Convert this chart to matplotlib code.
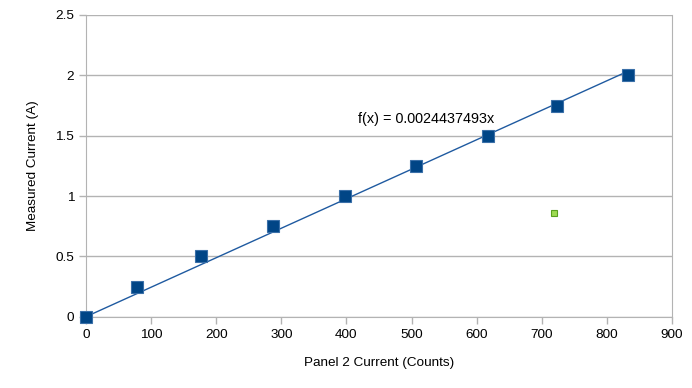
import matplotlib
matplotlib.use("Agg")
import matplotlib.pyplot as plt
import numpy as np

plt.rcParams['font.family'] = ['Liberation Sans', 'DejaVu Sans']

counts = [0, 78, 177, 287, 398, 507, 617, 723, 833]
measured = [0, 0.25, 0.5, 0.75, 1.0, 1.25, 1.5, 1.75, 2.0]
slope = 0.0024437493
extra_x = [719]
extra_y = [0.857]
x_ticks = [0, 100, 200, 300, 400, 500, 600, 700, 800, 900]
y_ticks = [0, 0.5, 1, 1.5, 2, 2.5]
y_tick_labels = ["0", "0.5", "1", "1.5", "2", "2.5"]

fig = plt.figure(figsize=(6.92, 3.88), dpi=100)
ax = fig.add_axes([86/692, 1-316.7/388, (672-86)/692, (316.7-15)/388])

ax.set_xlim(0, 900)
ax.set_ylim(0, 2.5)
ax.set_yticks(y_ticks)
ax.set_yticklabels(y_tick_labels)
ax.set_xticks(x_ticks)
ax.grid(axis='y', color='#b3b3b3', linewidth=1)
ax.set_axisbelow(True)
for s in ['left', 'right', 'bottom']:
    ax.spines[s].set_color('#b3b3b3')
ax.spines['top'].set_visible(False)
ax.tick_params(axis='both', colors='#b3b3b3', labelcolor='black', labelsize=9.7, length=5, width=1)

xs = np.array([0, max(counts)])
ax.plot(xs, slope * xs, color='#1f5aa0', linewidth=1, zorder=3)
ax.plot(counts, measured, linestyle='none', marker='s', markersize=9,
        markerfacecolor='#004586', markeredgecolor='#3a6fa8', markeredgewidth=0.8, zorder=4, clip_on=False)
ax.plot(extra_x, extra_y, linestyle='none', marker='s', markersize=4.5,
        markerfacecolor='#9edb52', markeredgecolor='#5aa020', markeredgewidth=0.8, zorder=4)

ax.text(522, 1.638, "f(x) = 0.0024437493x", fontsize=10.4, ha='center', va='center')

ax.set_xlabel("Panel 2 Current (Counts)", fontsize=9.7, labelpad=12)
ax.set_ylabel("Measured Current (A)", fontsize=9.7, labelpad=12)

fig.savefig("out.png", dpi=100)
